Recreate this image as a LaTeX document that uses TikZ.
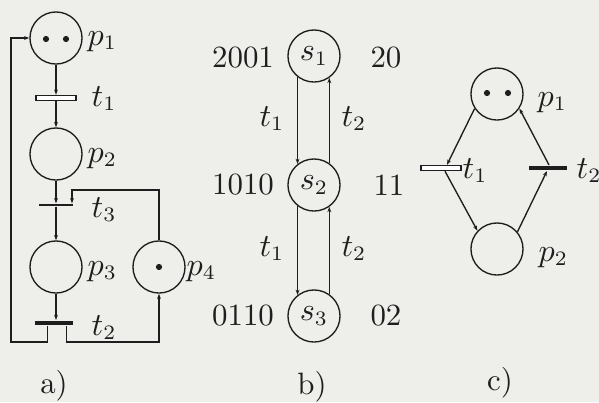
\documentclass[tikz,border=0pt]{standalone}
\usetikzlibrary{arrows.meta,calc}
\definecolor{bg}{RGB}{238,238,235}
\definecolor{ink}{RGB}{30,30,30}
\begin{document}
\begin{tikzpicture}[x=0.34pt,y=-0.34pt, line width=0.46pt, draw=ink, text=ink,
  font=\fontsize{10.5}{12}\selectfont,
  place/.style={circle,draw,minimum size=17.7pt,inner sep=0pt},
  tok/.style={circle,fill=ink,inner sep=0pt,minimum size=2.1pt},
  hollowbar/.style={rectangle,draw,fill=white,minimum width=13.6pt,minimum height=1.8pt,inner sep=0pt,line width=0.4pt},
  solidbar/.style={rectangle,fill=ink,minimum width=12.9pt,minimum height=1.6pt,inner sep=0pt},
  thinbar/.style={rectangle,fill=ink,minimum width=11.6pt,minimum height=0.62pt,inner sep=0pt},
  arc/.style={-{Stealth[length=1.8pt,width=1.3pt]}},
  lbl/.style={inner sep=0pt}]
\fill[bg] (0,0) rectangle (599,402);
\useasboundingbox (0,0) rectangle (599,402);

% ---------- a) ----------
\node[place] (p1) at (56,38) {};
\node[tok] (p1a) at (46,39) {};
\node[tok] (p1b) at (66,39) {};
\node[hollowbar] (t1) at (56,98) {};
\node[place] (p2) at (56,154) {};
\node[thinbar] (t3) at (56,205) {};
\node[place] (p3) at (56,267) {};
\node[place] (p4) at (159,267) {};
\node[tok] (p4a) at (159,267) {};
\node[solidbar] (t2) at (54,323) {};
\coordinate (la) at (11,342);
\coordinate (lb) at (159,342);
\coordinate (lc) at (159,190);

\draw[arc] (p1) -- (t1);
\draw[arc] (t1) -- (p2);
\draw[arc] (p2) -- (t3);
\draw[arc] (t3) -- (p3);
\draw[arc] (p3.south) -- (p3.south |- t2.north);
\draw[arc] ($(t2.south)+(-6.5,0)$) |- (la) |- (p1.west);
\draw[arc] ($(t2.south)+(12.5,0)$) |- (lb) -- (p4.south);
\draw[arc] (p4.north) -- (lc) -| ($(t3.north)+(16,0)$);

\node[lbl,anchor=base west] (lp1) at (87,45) {$p_1$};
\node[lbl,anchor=base west] (lt1) at (91,106) {$t_1$};
\node[lbl,anchor=base west] (lp2) at (87,162) {$p_2$};
\node[lbl,anchor=base west] (lt3) at (91,217) {$t_3$};
\node[lbl,anchor=base west] (lp3) at (87,275) {$p_3$};
\node[lbl,anchor=base west] (lp4) at (186,275) {$p_4$};
\node[lbl,anchor=base west] (lt2) at (91,335) {$t_2$};
\node[lbl,anchor=base] (la-cap) at (54,393) {a)};

% ---------- b) ----------
\node[place] (s1) at (314,56) {$s_1$};
\node[place] (s2) at (314,185) {$s_2$};
\node[place] (s3) at (314,316) {$s_3$};
\draw[arc] (s1.-128) -- (s2.128);
\draw[arc] (s2.55) -- (s1.-55);
\draw[arc] (s2.-128) -- (s3.128);
\draw[arc] (s3.55) -- (s2.-55);
\node[lbl] (m1) at (243,58) {2001};
\node[lbl] (n1) at (386,58) {20};
\node[lbl] (m2) at (243,185) {1010};
\node[lbl] (n2) at (389,185) {11};
\node[lbl] (m3) at (243,316) {0110};
\node[lbl] (n3) at (386,316) {02};
\node[lbl,anchor=base] (bt1) at (272,126) {$t_1$};
\node[lbl,anchor=base] (bt2) at (354,126) {$t_2$};
\node[lbl,anchor=base] (bt3) at (272,256) {$t_1$};
\node[lbl,anchor=base] (bt4) at (354,256) {$t_2$};
\node[lbl,anchor=base] (lb-cap) at (312,394) {b)};

% ---------- c) ----------
\node[place] (q1) at (497,94) {};
\node[tok] (q1a) at (487,93) {};
\node[tok] (q1b) at (508,93) {};
\node[hollowbar] (u1) at (441,168) {};
\node[solidbar] (u2) at (548,168) {};
\node[place] (q2) at (497,249) {};
\draw[arc] (q1.-147) -- ($(u1.north)+(6,0)$);
\draw[arc] ($(u1.south)+(4,0)$) -- (q2.137);
\draw[arc] (q2.40) -- ($(u2.south)+(-1,0)$);
\draw[arc] ($(u2.north)+(1,0)$) -- (q1.-33);
\node[lbl,anchor=base west] (lq1) at (537,106) {$p_1$};
\node[lbl,anchor=base west] (lu1) at (462,178) {$t_1$};
\node[lbl,anchor=base west] (lu2) at (576,178) {$t_2$};
\node[lbl,anchor=base west] (lq2) at (538,261) {$p_2$};
\node[lbl,anchor=base] (lc-cap) at (500,390) {c)};
\end{tikzpicture}
\end{document}
